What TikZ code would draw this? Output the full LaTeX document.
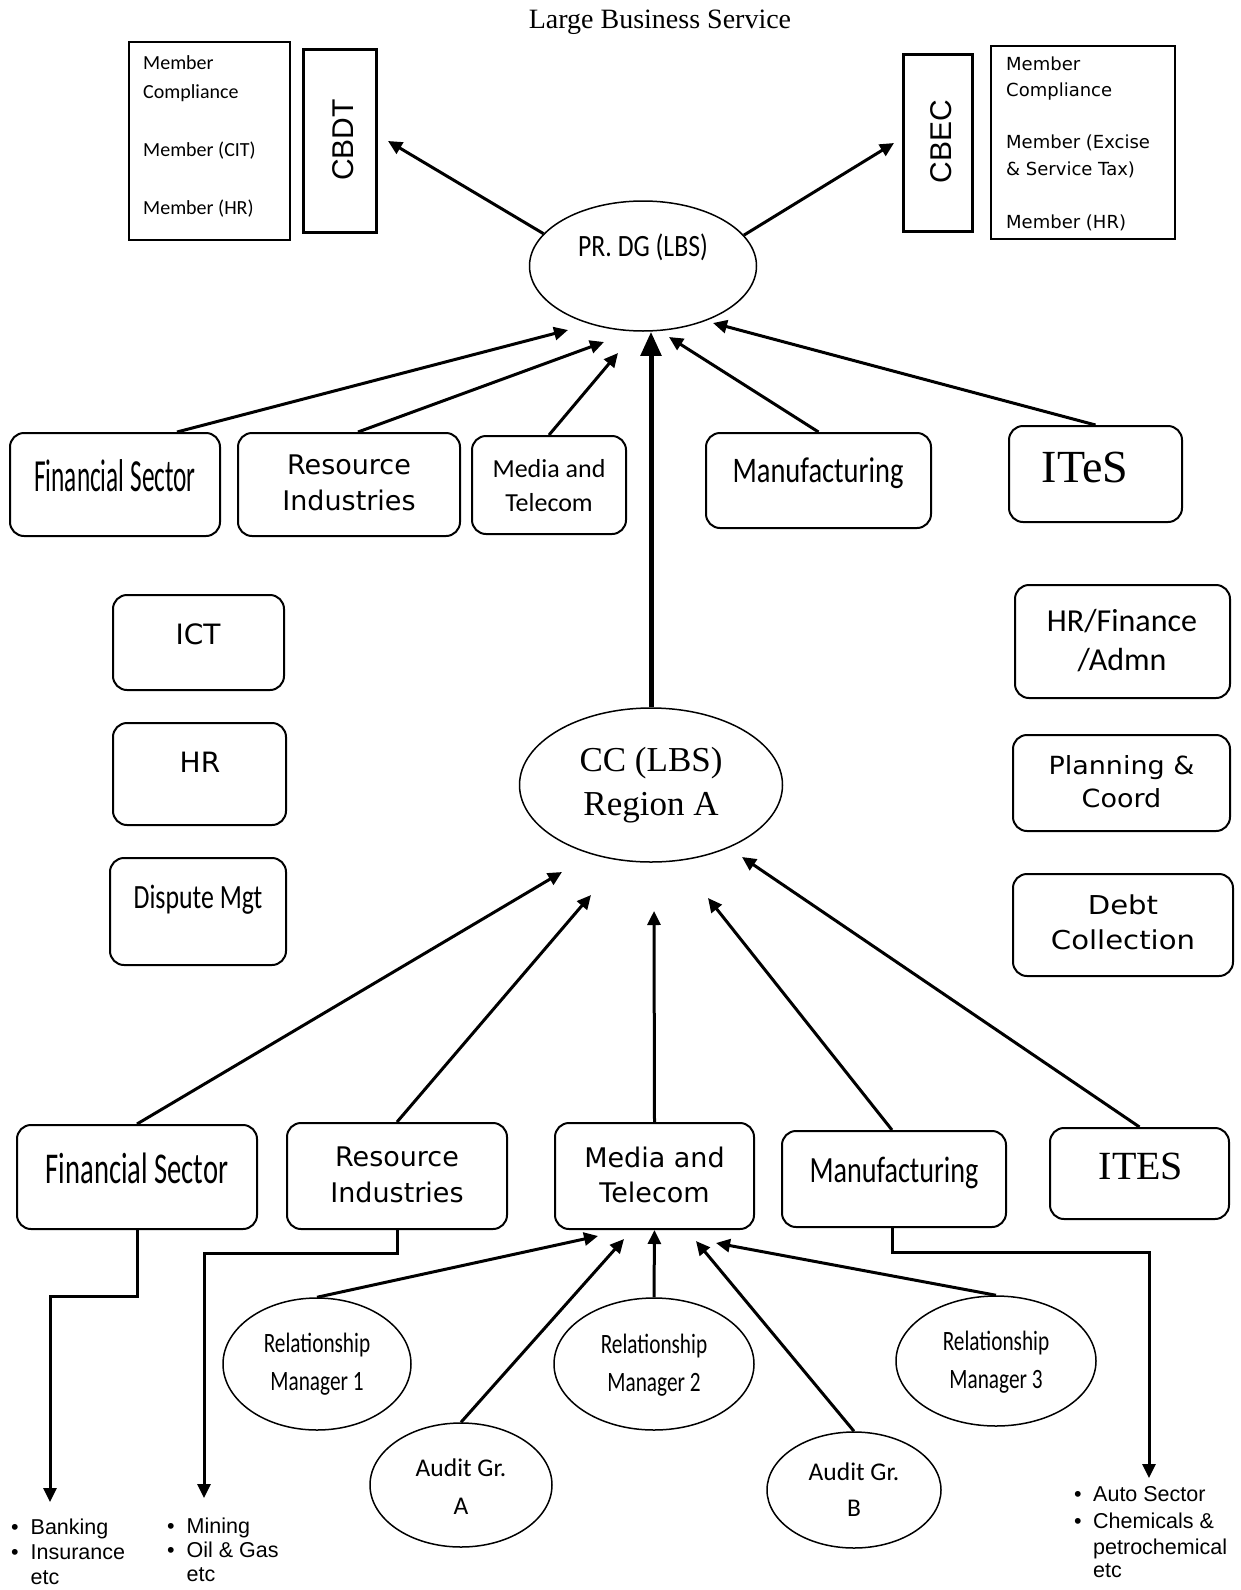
\documentclass[tikz,border=0pt]{standalone}
\usepackage{fontspec}
\usepackage{graphicx}
\usetikzlibrary{arrows.meta,shapes.geometric}
\newfontfamily\calfont{Carlito}
\newfontfamily\dvfont{DejaVu Sans}
\newfontfamily\arfont{Liberation Sans}
\newfontfamily\tmfont{Liberation Serif}
% condensed Carlito / stretched DejaVu text
\newcommand\sqz[3]{\scalebox{#1}[1]{\fontsize{#2}{#2}\calfont #3}}
\newcommand\sxd[3]{\scalebox{#1}[1]{\fontsize{#2}{#2}\dvfont #3}}

\begin{document}
\begin{tikzpicture}[x=1pt,y=-1pt,
  rbox/.style={draw, line width=2pt, rounded corners=14pt, inner sep=0pt},
  oval/.style={draw, ellipse, line width=1.5pt, inner sep=0pt},
  plainbox/.style={draw, line width=1.3pt, inner sep=0pt},
  boardbox/.style={draw, line width=3pt, inner sep=0pt},
  txt/.style={inner sep=0pt, text depth=0pt, align=center},
  mline/.style={inner sep=0pt, anchor=base west},
  bullet/.style={inner sep=0pt, anchor=base west, font=\fontsize{21.5}{21.5}\arfont},
  arr/.style={line width=3pt, -{Triangle[length=14pt,width=13pt]}},
  bigarr/.style={line width=5pt, -{Triangle[length=24pt,width=20pt]}},
]
\useasboundingbox (0,0) rectangle (1240,1590);

% ---------- title ----------
\node[txt, font=\fontsize{28}{28}\tmfont] (title) at (660,19) {Large Business Service};

% ---------- CBDT ----------
\node[plainbox, minimum width=161pt, minimum height=198pt] (cbdtm) at (209.5,141) {};
\node[mline, font=\fontsize{20}{20}\calfont] (cbdtm1) at (143,69.5) {Member};
\node[mline, font=\fontsize{20}{20}\calfont] (cbdtm2) at (143,98) {Compliance};
\node[mline, font=\fontsize{20}{20}\calfont] (cbdtm3) at (143,156.5) {Member (CIT)};
\node[mline, font=\fontsize{20}{20}\calfont] (cbdtm4) at (143,214.5) {Member (HR)};
\node[boardbox, minimum width=73pt, minimum height=183pt] (cbdt) at (339.5,140.5) {};
\node[txt, rotate=90, font=\fontsize{30}{30}\arfont] (cbdtt) at (343,140) {CBDT};

% ---------- CBEC ----------
\node[boardbox, minimum width=69pt, minimum height=177pt] (cbec) at (937.5,142.5) {};
\node[txt, rotate=90, font=\fontsize{30}{30}\arfont] (cbect) at (941,141.5) {CBEC};
\node[plainbox, minimum width=184pt, minimum height=193pt] (cbecm) at (1083,142.5) {};
\node[mline, font=\fontsize{18}{18}\dvfont] (cbecm1) at (1006,70) {Member};
\node[mline, font=\fontsize{18}{18}\dvfont] (cbecm2) at (1006,96) {Compliance};
\node[mline, font=\fontsize{18}{18}\dvfont] (cbecm3) at (1006,148) {Member (Excise};
\node[mline, font=\fontsize{18}{18}\dvfont] (cbecm4) at (1006,175) {\& Service Tax)};
\node[mline, font=\fontsize{18}{18}\dvfont] (cbecm5) at (1006,228) {Member (HR)};

% ---------- PR. DG ----------
\node[oval, minimum width=227pt, minimum height=130pt] (pr) at (643,266) {};
\node[txt] (prt) at (643,245) {\sqz{0.83}{31}{PR. DG (LBS)}};

% ---------- upper sector row ----------
\node[rbox, minimum width=210pt, minimum height=103pt] (fs1) at (115,484.5) {};
\node[txt] (fs1t) at (115,476) {\sqz{0.55}{46}{Financial Sector}};
\node[rbox, minimum width=222pt, minimum height=103pt] (ri1) at (349,484.5) {};
\node[txt, font=\fontsize{27}{36}\dvfont] (ri1t) at (349,483) {Resource\\Industries};
\node[rbox, minimum width=154pt, minimum height=98pt] (mt1) at (549,485) {};
\node[txt, font=\fontsize{26}{34}\calfont] (mt1t) at (549,485) {Media and\\Telecom};
\node[rbox, minimum width=225pt, minimum height=95pt] (mf1) at (818.5,480.5) {};
\node[txt] (mf1t) at (818,470) {\sqz{0.79}{36}{Manufacturing}};
\node[rbox, minimum width=173pt, minimum height=96pt] (ites1) at (1095.5,474) {};
\node[txt, font=\fontsize{46}{46}\tmfont] (ites1t) at (1085,467) {ITeS};

% ---------- left support units ----------
\node[rbox, minimum width=171pt, minimum height=95pt] (ict) at (198.5,642.5) {};
\node[txt, font=\fontsize{28}{28}\dvfont] (ictt) at (198,634) {ICT};
\node[rbox, minimum width=173pt, minimum height=102pt] (hr) at (199.5,774) {};
\node[txt, font=\fontsize{28}{28}\dvfont] (hrt) at (200,762) {HR};
\node[rbox, minimum width=176pt, minimum height=107pt] (dm) at (198,911.5) {};
\node[txt] (dmt) at (198,897) {\sqz{0.76}{34}{Dispute Mgt}};

% ---------- right support units ----------
\node[rbox, minimum width=215pt, minimum height=113pt] (hfa) at (1122.5,641.5) {};
\node[txt, font=\fontsize{32}{39}\calfont] (hfat) at (1122,639.5) {HR/Finance\\/Admn};
\node[rbox, minimum width=217pt, minimum height=96pt] (pc) at (1121.5,783) {};
\node[txt, font=\fontsize{25}{33}\dvfont] (pct) at (1121.5,781.5) {\sxd{1.08}{25}{Planning \&}\\\sxd{1.08}{25}{Coord}};
\node[rbox, minimum width=220pt, minimum height=102pt] (dc) at (1123,925) {};
\node[txt, font=\fontsize{26}{35}\dvfont] (dct) at (1123,922.5) {\sxd{1.12}{26}{Debt}\\\sxd{1.12}{26}{Collection}};

% ---------- CC (LBS) ----------
\node[oval, minimum width=263pt, minimum height=154pt] (cc) at (651,785) {};
\node[txt, font=\fontsize{35}{44}\tmfont] (cct) at (651,781) {CC (LBS)\\Region A};

% ---------- lower sector row ----------
\node[rbox, minimum width=240pt, minimum height=104pt] (fs2) at (137,1177) {};
\node[txt] (fs2t) at (137,1168) {\sqz{0.65}{44}{Financial Sector}};
\node[rbox, minimum width=220pt, minimum height=106pt] (ri2) at (397,1176) {};
\node[txt, font=\fontsize{27}{36}\dvfont] (ri2t) at (397,1175) {Resource\\Industries};
\node[rbox, minimum width=199pt, minimum height=106pt] (mt2) at (654.5,1176) {};
\node[txt, font=\fontsize{27}{35}\dvfont] (mt2t) at (654.5,1174.5) {Media and\\Telecom};
\node[rbox, minimum width=224pt, minimum height=96pt] (mf2) at (894,1179) {};
\node[txt] (mf2t) at (894,1170) {\sqz{0.76}{37}{Manufacturing}};
\node[rbox, minimum width=179pt, minimum height=91pt] (ites2) at (1139.5,1173.5) {};
\node[txt, font=\fontsize{40}{40}\tmfont] (ites2t) at (1141,1166) {ITES};

% ---------- relationship managers and audit groups ----------
\node[oval, minimum width=188pt, minimum height=132pt] (rm1) at (317,1364) {};
\node[txt, font=\fontsize{28}{38}\calfont] (rm1t) at (317,1362) {\sqz{0.76}{28}{Relationship}\\\sqz{0.76}{28}{Manager 1}};
\node[oval, minimum width=200pt, minimum height=132pt] (rm2) at (654,1364) {};
\node[txt, font=\fontsize{28}{38}\calfont] (rm2t) at (654,1362.5) {\sqz{0.76}{28}{Relationship}\\\sqz{0.76}{28}{Manager 2}};
\node[oval, minimum width=200pt, minimum height=130pt] (rm3) at (996,1361) {};
\node[txt, font=\fontsize{28}{38}\calfont] (rm3t) at (996,1359.5) {\sqz{0.76}{28}{Relationship}\\\sqz{0.76}{28}{Manager 3}};
\node[oval, minimum width=182pt, minimum height=124pt] (aga) at (461,1485) {};
\node[txt, font=\fontsize{25.5}{38}\calfont] (agat) at (461,1487) {Audit Gr.\\A};
\node[oval, minimum width=174pt, minimum height=116pt] (agb) at (854,1490) {};
\node[txt, font=\fontsize{25.5}{36}\calfont] (agbt) at (854,1490) {Audit Gr.\\B};

% ---------- bullet lists ----------
\node[bullet] (b1a) at (11,1534) {\textbullet};
\node[bullet] (b1at) at (30.5,1534) {Banking};
\node[bullet] (b1b) at (11,1559) {\textbullet};
\node[bullet] (b1bt) at (30.5,1559) {Insurance};
\node[bullet] (b1ct) at (30.5,1584) {etc};
\node[bullet] (b2a) at (167,1533) {\textbullet};
\node[bullet] (b2at) at (186.5,1533) {Mining};
\node[bullet] (b2b) at (167,1557) {\textbullet};
\node[bullet] (b2bt) at (186.5,1557) {Oil \& Gas};
\node[bullet] (b2ct) at (186.5,1581) {etc};
\node[bullet] (b3a) at (1074,1501) {\textbullet};
\node[bullet] (b3at) at (1093,1501) {Auto Sector};
\node[bullet] (b3b) at (1074,1528) {\textbullet};
\node[bullet] (b3bt) at (1093,1528) {Chemicals \&};
\node[bullet] (b3ct) at (1093,1554) {petrochemical};
\node[bullet] (b3dt) at (1093,1577) {etc};

% ---------- arrow end points ----------
\coordinate (cbdt-in) at (388,141);
\coordinate (cbec-in) at (894,143);
\coordinate (pr-in1) at (568,330);
\coordinate (pr-in2) at (604,342);
\coordinate (pr-in3) at (618,353);
\coordinate (pr-in5) at (669,337);
\coordinate (pr-in6) at (713,323);
\coordinate (cc-in1) at (562,872);
\coordinate (cc-in2) at (591,895);
\coordinate (cc-in3) at (654,911);
\coordinate (cc-in4) at (708,898);
\coordinate (cc-in5) at (742,857);
\coordinate (mt-in1) at (598,1236);
\coordinate (mt-in2) at (624,1239);
\coordinate (mt-in4) at (696,1241);
\coordinate (mt-in5) at (716,1243);
\coordinate (bank-in) at (50,1502);
\coordinate (mine-in) at (204,1498);
\coordinate (auto-in) at (1149,1478);

% ---------- connectors ----------
\draw[arr] (pr.162) -- (cbdt-in);
\draw[arr] (pr.17) -- (cbec-in);
\draw[arr] ([xshift=62pt]fs1.north) -- (pr-in1);
\draw[arr] ([xshift=9pt]ri1.north) -- (pr-in2);
\draw[arr] (mt1.north) -- (pr-in3);
\draw[arr] (mf1.north) -- (pr-in5);
\draw[arr] (ites1.north) -- (pr-in6);
\draw[bigarr] (cc.north) -- (cc.north |- pr.south);

\draw[arr] (fs2.north) -- (cc-in1);
\draw[arr] (ri2.north) -- (cc-in2);
\draw[arr] (mt2.north) -- (cc-in3);
\draw[arr] ([xshift=-2pt]mf2.north) -- (cc-in4);
\draw[arr] (ites2.north) -- (cc-in5);

\draw[arr] (rm1.north) -- (mt-in1);
\draw[arr] (aga.north) -- (mt-in2);
\draw[arr] (rm2.north) -- (mt2.south);
\draw[arr] (agb.north) -- (mt-in4);
\draw[arr] (rm3.north) -- (mt-in5);

\draw[arr] (fs2.south) -- ++(0,66) -| (bank-in);
\draw[arr] (ri2.south) -- ++(0,23) -| (mine-in);
\draw[arr] ([xshift=-2pt]mf2.south) -- ++(0,24) -| (auto-in);
\end{tikzpicture}
\end{document}
